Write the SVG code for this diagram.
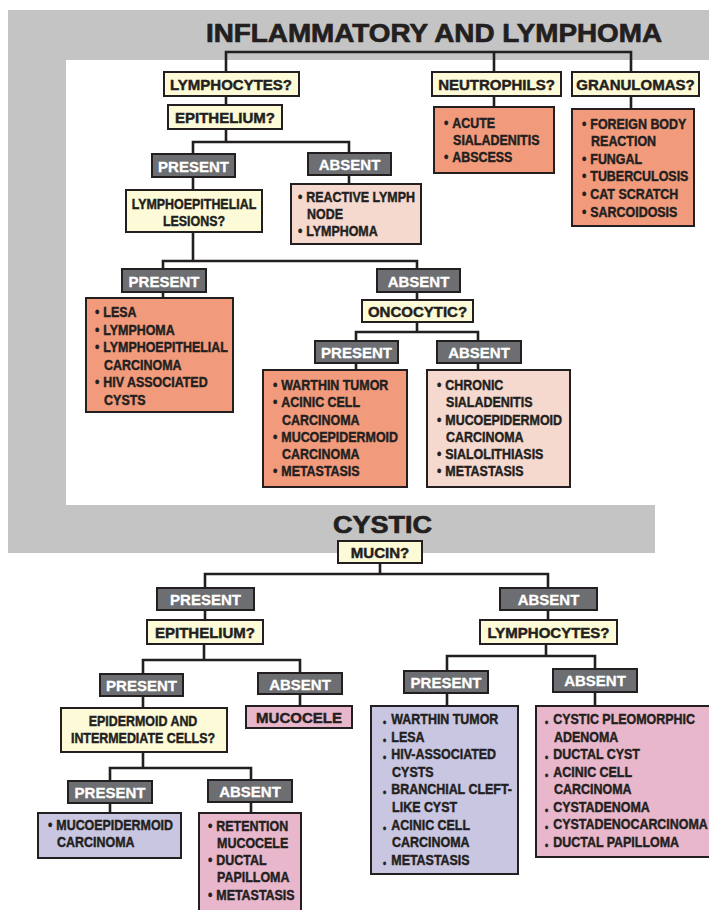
<svg xmlns="http://www.w3.org/2000/svg" width="709" height="910" viewBox="0 0 709 910">
<style>
text{font-family:"Liberation Sans",Arial,Helvetica,sans-serif;font-weight:bold;font-size:15px;fill:#231F20;stroke:#231F20;stroke-width:0.45}
.c{text-anchor:middle}
.w{fill:#FFFFFF;stroke:#FFFFFF;stroke-width:0.3}
.t{font-size:26px;stroke-width:0.7}
.q{fill:#FDFAD7;stroke:#231F20;stroke-width:2}
.lab{fill:#6D6E71;stroke:#231F20;stroke-width:2}
.sal{fill:#F29B7C;stroke:#231F20;stroke-width:2}
.lpk{fill:#F6D9CE;stroke:#231F20;stroke-width:2}
.lav{fill:#C9C6E2;stroke:#231F20;stroke-width:2}
.pnk{fill:#E9B7CB;stroke:#231F20;stroke-width:2}
.conn path{fill:none;stroke:#231F20;stroke-width:2.6;stroke-linecap:square}
.sb{font-size:11px}
</style>
<rect width="709" height="910" fill="#FFFFFF"/>
<path id="bands" d="M8,10 H709 V60 H66 V505 H655 V553 H8 Z" fill="#C4C4C4"/>
<text class="t" x="206" y="42" textLength="456" lengthAdjust="spacingAndGlyphs">INFLAMMATORY AND LYMPHOMA</text>
<text class="t" x="333" y="533" style="font-size:24px" textLength="99" lengthAdjust="spacingAndGlyphs">CYSTIC</text>

<g id="connectors" class="conn">
<path d="M226,52 H631 M226,52 V72 M494,52 V72 M631,52 V72"/>
<path d="M226,96 V105 M226,129 V142 M193,142 H349 M193,142 V154 M349,142 V153"/>
<path d="M193,177 V190 M349,175 V184"/>
<path d="M193,232 V261 M163,261 H417 M163,261 V269 M417,261 V269"/>
<path d="M163,292 V298 M417,292 V300 M417,322 V332 M356,332 H478 M356,332 V341 M478,332 V341 M356,363 V370 M478,363 V370"/>
<path d="M494,96 V107 M631,96 V109"/>
<path d="M380,563 V574 M205,574 H548 M205,574 V588 M548,574 V588"/>
<path d="M205,610 V620 M548,610 V620"/>
<path d="M204,644 V660 M143,660 H300 M143,660 V674 M300,660 V673"/>
<path d="M143,696 V708 M300,694 V706"/>
<path d="M143,752 V768 M110,768 H251 M110,768 V781 M251,768 V780"/>
<path d="M110,803 V813 M251,802 V813"/>
<path d="M546,644 V656 M447,656 H595 M447,656 V671 M595,656 V669"/>
<path d="M447,693 V706 M595,692 V706"/>
</g>

<g id="n_lymph1"><rect class="q" x="164" y="72" width="135" height="24"/><text class="c" x="231" y="90">LYMPHOCYTES?</text></g>
<g id="n_epi1"><rect class="q" x="168" y="105" width="114" height="24"/><text class="c" x="225" y="123">EPITHELIUM?</text></g>
<g id="n_neut"><rect class="q" x="432" y="72" width="129" height="24"/><text class="c" x="496.5" y="90">NEUTROPHILS?</text></g>
<g id="n_gran"><rect class="q" x="572" y="72" width="127" height="24"/><text class="c" x="635.5" y="90">GRANULOMAS?</text></g>

<g id="n_acute"><rect class="sal" x="434" y="107" width="120" height="66"/>
<g transform="translate(444 0) scale(0.83 1)">
<text y="128"><tspan x="0">•</tspan><tspan x="10">ACUTE</tspan></text>
<text x="11" y="145">SIALADENITIS</text>
<text y="162"><tspan x="0">•</tspan><tspan x="10">ABSCESS</tspan></text>
</g></g>

<g id="n_foreign"><rect class="sal" x="572" y="109" width="122" height="117"/>
<g transform="translate(582 0) scale(0.83 1)">
<text y="129"><tspan x="0">•</tspan><tspan x="10">FOREIGN BODY</tspan></text>
<text x="11" y="146">REACTION</text>
<text y="164"><tspan x="0">•</tspan><tspan x="10">FUNGAL</tspan></text>
<text y="181"><tspan x="0">•</tspan><tspan x="10">TUBERCULOSIS</tspan></text>
<text y="199"><tspan x="0">•</tspan><tspan x="10">CAT SCRATCH</tspan></text>
<text y="217"><tspan x="0">•</tspan><tspan x="10">SARCOIDOSIS</tspan></text>
</g></g>

<g id="n_pres1"><rect class="lab" x="152" y="154" width="83" height="23"/><text class="c w" x="193.5" y="172">PRESENT</text></g>
<g id="n_abs1"><rect class="lab" x="308" y="153" width="83" height="22"/><text class="c w" x="349.5" y="170">ABSENT</text></g>

<g id="n_lel"><rect class="q" x="126" y="190" width="136" height="42"/>
<g transform="translate(194 0) scale(0.83 1)">
<text class="c" x="0" y="209">LYMPHOEPITHELIAL</text>
<text class="c" x="0" y="226">LESIONS?</text>
</g></g>

<g id="n_reactive"><rect class="lpk" x="291" y="184" width="130" height="60"/>
<g transform="translate(298 0) scale(0.83 1)">
<text y="202"><tspan x="0">•</tspan><tspan x="10">REACTIVE LYMPH</tspan></text>
<text x="11" y="219">NODE</text>
<text y="236"><tspan x="0">•</tspan><tspan x="10">LYMPHOMA</tspan></text>
</g></g>

<g id="n_pres2"><rect class="lab" x="122" y="269" width="84" height="23"/><text class="c w" x="164" y="287">PRESENT</text></g>
<g id="n_abs2"><rect class="lab" x="377" y="269" width="83" height="23"/><text class="c w" x="418.5" y="287">ABSENT</text></g>

<g id="n_lesa"><rect class="sal" x="86" y="298" width="147" height="114"/>
<g transform="translate(95 0) scale(0.83 1)">
<text y="317"><tspan x="0">•</tspan><tspan x="10">LESA</tspan></text>
<text y="335"><tspan x="0">•</tspan><tspan x="10">LYMPHOMA</tspan></text>
<text y="352"><tspan x="0">•</tspan><tspan x="10">LYMPHOEPITHELIAL</tspan></text>
<text x="11" y="370">CARCINOMA</text>
<text y="387"><tspan x="0">•</tspan><tspan x="10">HIV ASSOCIATED</tspan></text>
<text x="11" y="405">CYSTS</text>
</g></g>

<g id="n_onco"><rect class="q" x="362" y="300" width="111" height="22"/><text class="c" x="417.5" y="317">ONCOCYTIC?</text></g>
<g id="n_pres3"><rect class="lab" x="315" y="341" width="83" height="22"/><text class="c w" x="356.5" y="358">PRESENT</text></g>
<g id="n_abs3"><rect class="lab" x="437" y="341" width="84" height="22"/><text class="c w" x="479" y="358">ABSENT</text></g>

<g id="n_warthin1"><rect class="sal" x="263" y="370" width="144" height="117"/>
<g transform="translate(273 0) scale(0.83 1)">
<text y="390"><tspan x="0">•</tspan><tspan x="10">WARTHIN TUMOR</tspan></text>
<text y="407"><tspan x="0">•</tspan><tspan x="10">ACINIC CELL</tspan></text>
<text x="11" y="425">CARCINOMA</text>
<text y="442"><tspan x="0">•</tspan><tspan x="10">MUCOEPIDERMOID</tspan></text>
<text x="11" y="459">CARCINOMA</text>
<text y="476"><tspan x="0">•</tspan><tspan x="10">METASTASIS</tspan></text>
</g></g>

<g id="n_chronic"><rect class="lpk" x="427" y="370" width="143" height="117"/>
<g transform="translate(437 0) scale(0.83 1)">
<text y="390"><tspan x="0">•</tspan><tspan x="10">CHRONIC</tspan></text>
<text x="11" y="407">SIALADENITIS</text>
<text y="425"><tspan x="0">•</tspan><tspan x="10">MUCOEPIDERMOID</tspan></text>
<text x="11" y="442">CARCINOMA</text>
<text y="459"><tspan x="0">•</tspan><tspan x="10">SIALOLITHIASIS</tspan></text>
<text y="476"><tspan x="0">•</tspan><tspan x="10">METASTASIS</tspan></text>
</g></g>

<g id="n_mucin"><rect class="q" x="338" y="541" width="84" height="22"/><text class="c" x="380" y="558">MUCIN?</text></g>
<g id="n_pres4"><rect class="lab" x="157" y="588" width="97" height="22"/><text class="c w" x="205.5" y="605">PRESENT</text></g>
<g id="n_abs4"><rect class="lab" x="500" y="588" width="97" height="22"/><text class="c w" x="548.5" y="605">ABSENT</text></g>
<g id="n_epi2"><rect class="q" x="147" y="620" width="116" height="24"/><text class="c" x="205" y="638">EPITHELIUM?</text></g>
<g id="n_lymph2"><rect class="q" x="480" y="620" width="137" height="24"/><text class="c" x="548.5" y="638">LYMPHOCYTES?</text></g>

<g id="n_pres5"><rect class="lab" x="100" y="674" width="83" height="22"/><text class="c w" x="141.5" y="691">PRESENT</text></g>
<g id="n_abs5"><rect class="lab" x="258" y="673" width="84" height="21"/><text class="c w" x="300" y="690">ABSENT</text></g>

<g id="n_epid"><rect class="q" x="61" y="708" width="166" height="44"/>
<g transform="translate(143 0) scale(0.83 1)">
<text class="c" x="0" y="726">EPIDERMOID AND</text>
<text class="c" x="0" y="743">INTERMEDIATE CELLS?</text>
</g></g>

<g id="n_mucocele"><rect class="pnk" x="246" y="706" width="106" height="22"/><text class="c" x="299" y="723">MUCOCELE</text></g>

<g id="n_pres6"><rect class="lab" x="68" y="781" width="84" height="22"/><text class="c w" x="110" y="798">PRESENT</text></g>
<g id="n_abs6"><rect class="lab" x="208" y="780" width="84" height="22"/><text class="c w" x="250" y="797">ABSENT</text></g>

<g id="n_mucoep"><rect class="lav" x="38" y="813" width="143" height="45"/>
<g transform="translate(48 0) scale(0.83 1)">
<text y="830"><tspan x="0">•</tspan><tspan x="10">MUCOEPIDERMOID</tspan></text>
<text x="11" y="847">CARCINOMA</text>
</g></g>

<g id="n_retention"><rect class="pnk" x="199" y="813" width="102" height="110"/>
<g transform="translate(208 0) scale(0.83 1)">
<text y="831"><tspan x="0">•</tspan><tspan x="10">RETENTION</tspan></text>
<text x="11" y="848">MUCOCELE</text>
<text y="865"><tspan x="0">•</tspan><tspan x="10">DUCTAL</tspan></text>
<text x="11" y="882">PAPILLOMA</text>
<text y="900"><tspan x="0">•</tspan><tspan x="10">METASTASIS</tspan></text>
</g></g>

<g id="n_pres7"><rect class="lab" x="404" y="671" width="84" height="22"/><text class="c w" x="446" y="688">PRESENT</text></g>
<g id="n_abs7"><rect class="lab" x="553" y="669" width="84" height="23"/><text class="c w" x="595" y="686">ABSENT</text></g>

<g id="n_warthin2"><rect class="lav" x="371" y="706" width="147" height="168"/>
<g transform="translate(383 0) scale(0.83 1)">
<text y="724"><tspan class="sb" x="0" dy="2">•</tspan><tspan x="10" dy="-2">WARTHIN TUMOR</tspan></text>
<text y="742"><tspan class="sb" x="0" dy="2">•</tspan><tspan x="10" dy="-2">LESA</tspan></text>
<text y="759"><tspan class="sb" x="0" dy="2">•</tspan><tspan x="10" dy="-2">HIV-ASSOCIATED</tspan></text>
<text x="11" y="777">CYSTS</text>
<text y="794"><tspan class="sb" x="0" dy="2">•</tspan><tspan x="10" dy="-2">BRANCHIAL CLEFT-</tspan></text>
<text x="11" y="812">LIKE CYST</text>
<text y="830"><tspan class="sb" x="0" dy="2">•</tspan><tspan x="10" dy="-2">ACINIC CELL</tspan></text>
<text x="11" y="847">CARCINOMA</text>
<text y="865"><tspan class="sb" x="0" dy="2">•</tspan><tspan x="10" dy="-2">METASTASIS</tspan></text>
</g></g>

<g id="n_cystic"><rect class="pnk" x="536" y="706" width="180" height="151"/>
<g transform="translate(545 0) scale(0.83 1)">
<text y="724"><tspan class="sb" x="0" dy="2">•</tspan><tspan x="10" dy="-2">CYSTIC PLEOMORPHIC</tspan></text>
<text x="11" y="742">ADENOMA</text>
<text y="759"><tspan class="sb" x="0" dy="2">•</tspan><tspan x="10" dy="-2">DUCTAL CYST</tspan></text>
<text y="777"><tspan class="sb" x="0" dy="2">•</tspan><tspan x="10" dy="-2">ACINIC CELL</tspan></text>
<text x="11" y="794">CARCINOMA</text>
<text y="812"><tspan class="sb" x="0" dy="2">•</tspan><tspan x="10" dy="-2">CYSTADENOMA</tspan></text>
<text y="829"><tspan class="sb" x="0" dy="2">•</tspan><tspan x="10" dy="-2">CYSTADENOCARCINOMA</tspan></text>
<text y="847"><tspan class="sb" x="0" dy="2">•</tspan><tspan x="10" dy="-2">DUCTAL PAPILLOMA</tspan></text>
</g></g>
</svg>
